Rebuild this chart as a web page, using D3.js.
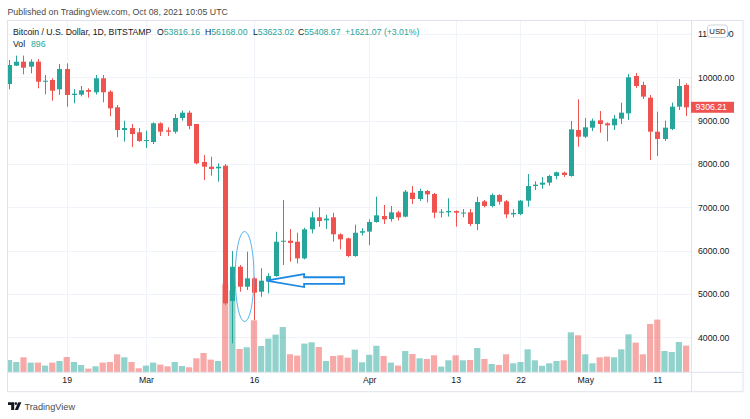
<!DOCTYPE html>
<html><head><meta charset="utf-8">
<script src="https://cdn.jsdelivr.net/npm/d3@7"></script>
<style>
body{margin:0;background:#fff;}
svg{display:block;font-family:"Liberation Sans",Arial,sans-serif;}
</style>
</head><body>
<svg id="c" width="750" height="419"></svg>
<script>
// ---------- DATA ----------
const startDate = "2020-02-11"; // one candle per day from here
const open  = [9845,10268,10360,10245,10360,9898,9938,9723,10191,9592,9600,9707,9654,9977,9668,9308,8784,8830,8731,
  8530,8507,8939,8776,8745,9061,9184,8923,8046,7938,7900,7961,4839,5630,5169,5362,5054,5323,5415,6207,6230,6207,5823,6493,6770,6700,6770,6378,6285,5877,6415,
  6440,6662,6800,6730,6885,6785,7339,7193,7377,7308,6877,6885,6915,6860,6885,6615,7139,7031,7285,7139,6838,6846,7154,7492,7523,7570,7723,7800,7723,8784,
  8630,8838,9008,8938,8892,9046,9169,10030,9823,9530,8745,8577,8808,9323,9823];
const high  = [10399,10500,10500,10415,10422,10053,9977,10307,10323,9723,9800,9746,10053,10053,9700,9361,8999,8922,8830,
  8768,8961,8962,8846,9154,9230,9230,8923,8207,8168,8016,8000,5993,5670,5977,5400,5593,5478,6438,7170,6500,6415,6530,6900,7000,6830,6877,6400,6300,6600,6520,
  6723,7246,7054,7031,6920,7400,7492,7431,7400,7330,6960,7210,6930,6960,6960,7246,7170,7320,7300,7170,6960,7170,7769,7600,7700,7750,7823,7823,8992,9492,
  9060,9046,9223,8960,9130,9415,10077,10100,9900,9592,9207,9000,9415,9961,9861];
const low   = [9723,10260,10069,10092,9746,9608,9460,9592,9322,9400,9560,9530,9600,9423,9100,8616,8514,8392,8514,
  8368,8461,8645,8646,8700,9000,8800,7993,7630,7730,7592,4750,3863,5054,5093,4400,4938,5015,5400,5670,5747,5707,5800,6400,6550,6500,6207,6032,5850,5860,6350,
  6130,6646,6615,6670,6700,6770,7077,7146,7115,6750,6770,6785,6554,6770,6570,6477,7000,7000,7060,6750,6770,6820,7015,7400,7430,7500,7647,7700,7707,8400,
  8600,8760,8722,8523,8784,8923,9015,9750,9500,8092,8184,8530,8780,9246,9107];
const close = [10284,10360,10221,10360,9898,9921,9691,10191,9592,9622,9700,9668,9977,9654,9285,8784,8830,8692,8530,
  8553,8939,8745,8745,9061,9184,8877,8016,7938,7884,7938,4786,5630,5169,5362,5031,5308,5415,6207,6230,6180,5823,6493,6770,6685,6740,6378,6262,5877,6415,6450,
  6662,6816,6723,6885,6770,7362,7193,7377,7300,6877,6900,6915,6877,6880,6615,7123,7031,7285,7130,6838,6870,7154,7492,7523,7570,7723,7808,7746,8800,8630,
  8846,8999,8923,8892,9046,9184,10000,9800,9554,8745,8577,8838,9323,9800,9306.21];
const volume = [9840,8240,12000,7760,7760,5360,7760,9040,12240,8240,5840,2960,4800,7760,8240,14400,12000,8240,3200,
  5360,7760,6160,4800,8240,5000,4000,11200,15440,10160,9040,70400,65600,18640,20000,41600,21040,26960,30160,36240,14400,13360,22960,24000,20240,9040,13040,13600,11760,18160,8000,
  14000,21200,13040,7760,5360,17040,14640,11200,10640,13600,4560,9600,13600,9600,9840,19440,10640,6640,5840,14400,7200,8240,18400,9600,5200,7200,9040,9600,32000,29600,
  14400,7200,12000,12560,12000,18400,30400,23760,14400,38640,42160,17040,16240,24240,21360];

const priceTicks = [4000,5000,6000,7000,8000,9000,10000,11000];
const timeTickDates  = ["2020-02-19","2020-03-01","2020-03-16","2020-04-01","2020-04-13","2020-04-22","2020-05-01","2020-05-11"];
const timeTickLabels = ["19","Mar","16","Apr","13","22","May","11"];

const titleText = "Bitcoin / U.S. Dollar, 1D, BITSTAMP";
const ohlcLabels = ["O","H","L","C"];
const ohlcValues = ["53816.16","56168.00","53623.02","55408.67"];
const changeText = "+1621.07 (+3.01%)";
const volValue = "896";
const lastPrice = 9306.21;

// annotation (data units): ellipse around Mar 13–16, arrow pointing at Mar 17
const ellipseCenter = {date:"2020-03-14", dayOffset:0.7, price:5404, rxDays:1.3, ryPrice:1040};
const arrowSpec = {tip:"2020-03-17", tipOff:0.7, head:"2020-03-22", headOff:0.96, tail:"2020-03-28", tailOff:0.5,
                   price:5312, headHalf:150, shaftHalf:75};

// ---------- SETUP ----------
const GREEN = "#26a69a", RED = "#ef5350";
const GREEN_V = "rgba(38,166,154,0.5)", RED_V = "rgba(239,83,80,0.5)";
const GRID = "#f0f3fa", BORDER = "#e0e3eb", TEXT = "#131722";

const parse = d3.utcParse("%Y-%m-%d");
const d0 = parse(startDate);
const dates = close.map((_, i) => d3.utcDay.offset(d0, i));
const data = dates.map((d, i) => ({d, o:open[i], h:high[i], l:low[i], c:close[i], v:volume[i]}));

const pane = {l:7, r:691.5, t:20.5, b:372.3};
const box = {l:7, r:742.5, t:20.5, b:391.7};

const x = d3.scaleUtc().domain([parse("2020-02-19"), parse("2020-05-11")]).range([66.7, 657.3]);
const y = d3.scaleLinear().domain([3000, 11000]).range([380.75, 33.95]);
const yv = d3.scaleLinear().domain([0, 80000]).range([pane.b, pane.b - 100]);

const svg = d3.select("#c");
svg.append("rect").attr("width",750).attr("height",419).attr("fill","#fff");

// published line
svg.append("text").attr("x",7.5).attr("y",14.5).attr("font-size",8.8).attr("fill","#4a4a4a")
  .text("Published on TradingView.com, Oct 08, 2021 10:05 UTC");

const defs = svg.append("defs");
defs.append("clipPath").attr("id","pane").append("rect")
  .attr("x",pane.l).attr("y",pane.t).attr("width",pane.r-pane.l).attr("height",pane.b-pane.t);

// grid
const grid = svg.append("g");
grid.selectAll("line.v").data(timeTickDates).join("line")
  .attr("x1", d => Math.round(x(parse(d)))+0.5).attr("x2", d => Math.round(x(parse(d)))+0.5)
  .attr("y1", pane.t).attr("y2", pane.b).attr("stroke", GRID).attr("stroke-width",1);
grid.selectAll("line.h").data(priceTicks).join("line")
  .attr("x1", pane.l).attr("x2", pane.r)
  .attr("y1", d => Math.round(y(d))+0.5).attr("y2", d => Math.round(y(d))+0.5)
  .attr("stroke", GRID).attr("stroke-width",1);

// plot
const plot = svg.append("g").attr("clip-path","url(#pane)");
const vw = 6.2, bw = 5;
plot.selectAll("rect.vol").data(data).join("rect")
  .attr("x", d => x(d.d) - vw/2).attr("width", vw)
  .attr("y", d => yv(d.v)).attr("height", d => pane.b - yv(d.v))
  .attr("fill", d => d.c >= d.o ? GREEN_V : RED_V);

plot.selectAll("line.wick").data(data).join("line")
  .attr("x1", d => Math.round(x(d.d))+0.5).attr("x2", d => Math.round(x(d.d))+0.5)
  .attr("y1", d => y(d.h)).attr("y2", d => y(d.l))
  .attr("stroke", d => d.c >= d.o ? GREEN : RED).attr("stroke-width",1);

plot.selectAll("rect.body").data(data).join("rect")
  .attr("x", d => Math.round(x(d.d))+0.5 - bw/2).attr("width", bw)
  .attr("y", d => y(Math.max(d.o,d.c)))
  .attr("height", d => Math.max(1, Math.abs(y(d.o)-y(d.c))))
  .attr("fill", d => d.c >= d.o ? GREEN : RED);

// annotation: ellipse + arrow
const dayPx = x(parse("2020-02-20")) - x(parse("2020-02-19"));
const ex = x(parse(ellipseCenter.date)) + ellipseCenter.dayOffset*dayPx;
svg.append("ellipse").attr("cx", ex).attr("cy", y(ellipseCenter.price))
  .attr("rx", ellipseCenter.rxDays*dayPx).attr("ry", y(ellipseCenter.price - ellipseCenter.ryPrice) - y(ellipseCenter.price))
  .attr("fill","none").attr("stroke","#5ab4ec").attr("stroke-width",1);

const ax = s => x(parse(arrowSpec[s])) + arrowSpec[s+"Off"]*dayPx;
const tipX = ax("tip"), headX = ax("head"), tailX = ax("tail");
const p = arrowSpec.price;
const pts = [[tipX, y(p)],[headX, y(p+arrowSpec.headHalf)],[headX, y(p+arrowSpec.shaftHalf)],[tailX, y(p+arrowSpec.shaftHalf)],
             [tailX, y(p-arrowSpec.shaftHalf)],[headX, y(p-arrowSpec.shaftHalf)],[headX, y(p-arrowSpec.headHalf)]];
svg.append("polygon").attr("points", pts.map(q => q.join(",")).join(" "))
  .attr("fill","#fff").attr("stroke","#1e88e5").attr("stroke-width",1.8).attr("stroke-linejoin","miter");

// borders
const b = svg.append("g").attr("stroke", BORDER).attr("fill","none");
b.append("rect").attr("x",box.l+0.5).attr("y",box.t).attr("width",box.r-box.l).attr("height",box.b-box.t);
b.append("line").attr("x1",pane.r).attr("x2",pane.r).attr("y1",box.t).attr("y2",box.b);
b.append("line").attr("x1",box.l).attr("x2",box.r).attr("y1",pane.b).attr("y2",pane.b);

// price axis
const pAxis = svg.append("g").attr("transform",`translate(${pane.r},0)`)
  .call(d3.axisRight(y).tickValues(priceTicks).tickFormat(d3.format(".2f")).tickSize(0).tickPadding(6.5));
pAxis.select(".domain").remove();
pAxis.selectAll("text").attr("font-size",8.7).attr("fill",TEXT).attr("font-family",null);

// last price label
svg.append("rect").attr("x",pane.r-0.5).attr("y", y(lastPrice)-5.6).attr("width",43).attr("height",11).attr("fill",RED);
svg.append("text").attr("x",pane.r+4).attr("y", y(lastPrice)+3).attr("font-size",8.7).attr("fill","#fff")
  .text(d3.format(".2f")(lastPrice));

// USD tag (sits over the 11000 label as in the reference)
svg.append("rect").attr("x",707.5).attr("y",25).attr("width",20).attr("height",12.5).attr("rx",3)
  .attr("fill","#fff").attr("stroke","#d1d4dc");
svg.append("text").attr("x",717.5).attr("y",34.2).attr("text-anchor","middle").attr("font-size",7.8).attr("fill",TEXT).text("USD");

// time axis
const tAxis = svg.append("g").attr("transform",`translate(0,${pane.b})`)
  .call(d3.axisBottom(x).tickValues(timeTickDates.map(parse)).tickFormat((d,i) => timeTickLabels[i]).tickSize(0).tickPadding(5));
tAxis.select(".domain").remove();
tAxis.selectAll("text").attr("font-size",8.7).attr("fill",TEXT).attr("font-family",null);

// legend header
const hy = 34.5, fs = 8.7;
svg.append("text").attr("x",13).attr("y",hy).attr("font-size",fs).attr("fill",TEXT).text(titleText);
const ohlcX = [157, 205, 253, 298];
ohlcLabels.forEach((l,i) => {
  const t = svg.append("text").attr("x",ohlcX[i]).attr("y",hy).attr("font-size",fs);
  t.append("tspan").attr("fill",TEXT).text(l);
  t.append("tspan").attr("fill",GREEN).text(ohlcValues[i]);
});
svg.append("text").attr("x",345).attr("y",hy).attr("font-size",fs).attr("fill",GREEN).text(changeText);
svg.append("text").attr("x",13).attr("y",47).attr("font-size",fs).attr("fill",TEXT).text("Vol");
svg.append("text").attr("x",31).attr("y",47).attr("font-size",fs).attr("fill",GREEN).text(volValue);

// TradingView logo
const logo = svg.append("g").attr("fill","#131722");
logo.append("path").attr("d","M8,402.3 h6.2 v7.7 h-3 v-5 h-3.2 z");
logo.append("circle").attr("cx",15.9).attr("cy",403.6).attr("r",1.3);
logo.append("path").attr("d","M18.2,402.3 h3.2 l-3.4,7.7 h-3.2 z");
svg.append("text").attr("x",24.5).attr("y",409.5).attr("font-size",9.2).attr("fill","#4a4a4a").text("TradingView");
</script>
</body></html>
